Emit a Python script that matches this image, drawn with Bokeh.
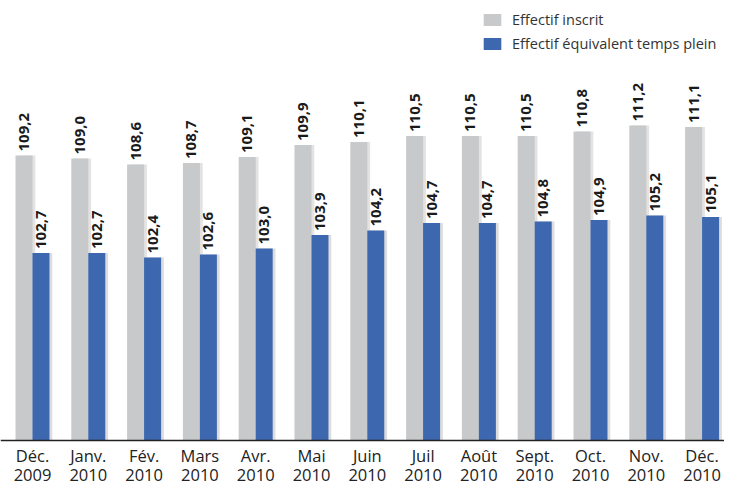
import math
from bokeh.plotting import figure
from bokeh.models import ColumnDataSource, Range1d, Legend, LegendItem, Span
from bokeh.core.properties import value
from bokeh.embed import file_html
from bokeh.resources import INLINE

months = ["Déc.", "Janv.", "Fév.", "Mars", "Avr.", "Mai", "Juin", "Juil", "Août", "Sept.", "Oct.", "Nov.", "Déc."]
years = ["2009", "2010", "2010", "2010", "2010", "2010", "2010", "2010", "2010", "2010", "2010", "2010", "2010"]
inscrit = [109.2, 109.0, 108.6, 108.7, 109.1, 109.9, 110.1, 110.5, 110.5, 110.5, 110.8, 111.2, 111.1]
etp = [102.7, 102.7, 102.4, 102.6, 103.0, 103.9, 104.2, 104.7, 104.7, 104.8, 104.9, 105.2, 105.1]
series_names = ["Effectif inscrit", "Effectif équivalent temps plein"]

GREY = "#c8c9ca"
BLUE = "#3d67af"
FONT = "Open Sans"

n = len(months)
xs = list(range(n))
off = 0.152
bw = 0.305

def fmt(v):
    return f"{v:.1f}".replace(".", ",")

src = ColumnDataSource(dict(
    x=xs,
    xg=[i - off for i in xs],
    xb=[i + off for i in xs],
    xgs=[i - off + 0.05 for i in xs],
    xbs=[i + off + 0.05 for i in xs],
    inscrit=inscrit,
    etp=etp,
    lg=[fmt(v) for v in inscrit],
    lb=[fmt(v) for v in etp],
    month=months,
    year=years,
))

W, H = 724, 484
step = 55.8            # px per category
x0 = -32 / step
base_px = 440          # baseline position inside the canvas (from top)
base = 90.2
scale = 15.0           # px per unit
p = figure(width=W, height=H, output_backend="svg", toolbar_location=None,
           x_range=Range1d(x0, x0 + W / step),
           y_range=Range1d(base - (H - base_px) / scale, base + base_px / scale),
           x_axis_location=None, y_axis_location=None,
           min_border=0)
p.outline_line_color = None
p.xgrid.visible = False
p.ygrid.visible = False
p.background_fill_color = "white"

# soft shadows
p.vbar(x="xgs", top="inscrit", bottom=base, width=bw, source=src,
       fill_color="#dcdcdc", line_color=None, fill_alpha=0.8)
p.vbar(x="xbs", top="etp", bottom=base, width=bw, source=src,
       fill_color="#d4d4d4", line_color=None, fill_alpha=0.8)

rg = p.vbar(x="xg", top="inscrit", bottom=base, width=bw, source=src,
            fill_color=GREY, line_color=None)
rb = p.vbar(x="xb", top="etp", bottom=base, width=bw, source=src,
            fill_color=BLUE, line_color=None)

p.add_layout(Span(location=base, dimension="width", line_color="#222222", line_width=1.3))

for xcol, ycol, tcol in (("xg", "inscrit", "lg"), ("xb", "etp", "lb")):
    p.text(x=xcol, y=ycol, text=tcol, source=src, angle=math.pi / 2,
           text_align="left", text_baseline="middle", y_offset=-4,
           text_font=value(FONT), text_font_style="bold",
           text_font_size="15px", text_color="#1a1a1a")

# category labels (two lines)
p.text(x="x", y=base, text="month", source=src, y_offset=15,
       text_align="center", text_baseline="middle",
       text_font=value(FONT), text_font_size="16.5px", text_color="#222222")
p.text(x="x", y=base, text="year", source=src, y_offset=34,
       text_align="center", text_baseline="middle",
       text_font=value(FONT), text_font_size="16.5px", text_color="#222222")

legend = Legend(items=[LegendItem(label=series_names[0], renderers=[rg]),
                       LegendItem(label=series_names[1], renderers=[rb])],
                location=(481, H - 53), orientation="vertical",
                padding=0, margin=0, spacing=4,
                glyph_width=22, glyph_height=15, label_height=20,
                label_standoff=9, border_line_color=None,
                background_fill_alpha=0,
                label_text_font=FONT, label_text_font_size="14.5px",
                label_text_color="#333333")
p.add_layout(legend)

open("out.html", "w").write(file_html(p, INLINE))
